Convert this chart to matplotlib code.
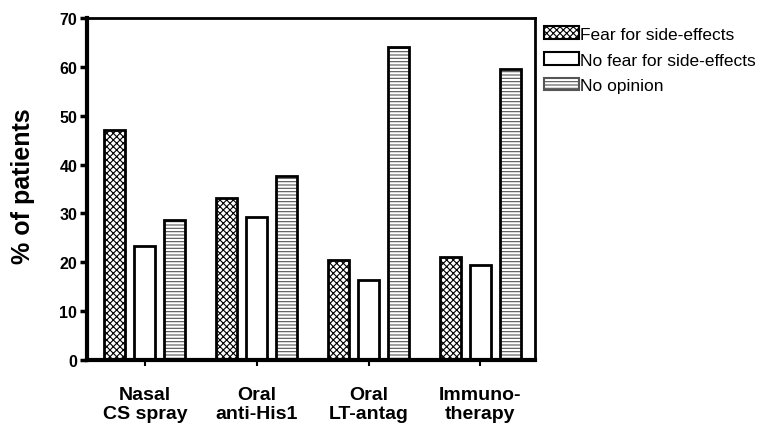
import numpy as np
import matplotlib
matplotlib.use("Agg")
import matplotlib.pyplot as plt

plt.rcParams['font.family'] = ['Liberation Sans', 'DejaVu Sans']
plt.rcParams['hatch.linewidth'] = 0.8

categories = ['Nasal\nCS spray', 'Oral\nanti-His1', 'Oral\nLT-antag', 'Immuno-\ntherapy']
fear = [47.0, 33.2, 20.5, 21.1]
no_fear = [23.4, 29.3, 16.4, 19.5]
no_opinion = [28.7, 37.6, 64.0, 59.5]
labels = ['Fear for side-effects', 'No fear for side-effects', 'No opinion']

fig = plt.figure(figsize=(7.69, 4.27), dpi=100)
ax = fig.add_axes([0.113, 0.155, 0.583, 0.80])

x = np.arange(len(categories))
w = 0.19
off = 0.268
series = [fear, no_fear, no_opinion]
hatches = ['xxxxx', '', '-----']
hcolors = ['black', 'white', '#555555']

handles = []
for i, (vals, h, hc) in enumerate(zip(series, hatches, hcolors)):
    pos = x + (i - 1) * off
    ax.bar(pos, vals, w, color='white', edgecolor=hc, hatch=h, linewidth=0)
    ax.bar(pos, vals, w, facecolor='none', edgecolor='black', linewidth=2)
    handles.append(plt.Rectangle((0, 0), 1, 1, facecolor='white', edgecolor=hc if h else 'black',
                                 hatch=h, linewidth=1.5))

ax.set_xlim(-0.518, 3.49)
ax.set_ylim(0, 70)
ax.set_yticks(range(0, 71, 10))
ax.set_xticks(x)
ax.set_xticklabels(categories, fontsize=14, fontweight='bold', linespacing=1.15)
for t in ax.get_yticklabels():
    t.set_fontweight('bold')
    t.set_fontsize(11.5)
ax.tick_params(axis='y', direction='out', length=5, width=2.5, pad=2)
ax.tick_params(axis='x', direction='out', length=4, width=1.5, pad=15)
fig.text(23 / 769, 0.564, '% of patients', fontsize=18, fontweight='bold',
         rotation=90, ha='center', va='center')

for s in ['left', 'bottom']:
    ax.spines[s].set_linewidth(3)
for s in ['top', 'right']:
    ax.spines[s].set_linewidth(2)

leg = fig.legend(handles, labels, loc='upper left', bbox_to_anchor=(0.699, 0.952),
                 frameon=False, fontsize=12.5, handlelength=2.0, handleheight=0.7,
                 handletextpad=0.05, labelspacing=0.62, borderaxespad=0)

fig.savefig('out.png', dpi=100)
